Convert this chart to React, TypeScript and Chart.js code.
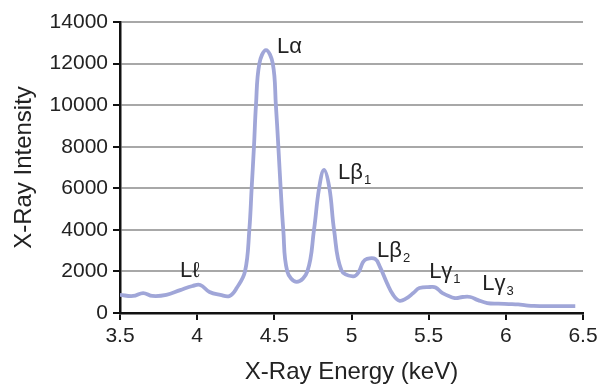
import React, { useEffect, useRef } from "react";
import { Chart, registerables } from "chart.js";

Chart.register(...registerables);

// X-ray energy (keV)
const energy = [
  3.5, 3.585, 3.65, 3.71, 3.8, 3.89, 3.97, 4.02, 4.08, 4.15, 4.21, 4.256, 4.31,
  4.338, 4.353, 4.368, 4.381, 4.403, 4.446, 4.49, 4.51, 4.526, 4.541, 4.558, 4.584,
  4.645, 4.714, 4.757, 4.79, 4.822, 4.857, 4.887, 4.935, 5.01,
  5.045, 5.075, 5.1, 5.153, 5.185, 5.23, 5.27, 5.31, 5.355, 5.4, 5.44, 5.51, 5.545,
  5.59, 5.67, 5.72, 5.77, 5.82, 5.88, 5.95, 6.02, 6.08, 6.13, 6.18, 6.3, 6.45,
];
// X-ray intensity
const intensity = [
  870, 820, 960, 820, 870, 1100, 1300, 1350, 1010, 870, 820, 1200, 2000,
  4000, 6000, 8000, 10000, 12000, 12650, 12000, 10000, 8000, 6000, 4000, 2000,
  1500, 2000, 4000, 6000, 6880, 6000, 4000, 2050, 1760,
  1950, 2450, 2600, 2600, 2210, 1440, 870, 590, 700, 960, 1200, 1250, 1230,
  960, 720, 770, 770, 620, 480, 450, 430, 410, 370, 340, 330, 330,
];

const xTickValues = [3.5, 4, 4.5, 5, 5.5, 6, 6.5];
const yTickValues = [0, 2000, 4000, 6000, 8000, 10000, 12000, 14000];

// Peak annotations
const peakMain = ["L\u2113", "L\u03b1", "L\u03b2", "L\u03b2", "L\u03b3", "L\u03b3"];
const peakSub = ["", "", "1", "2", "1", "3"];
const peakX = [3.889, 4.517, 4.913, 5.166, 5.503, 5.847];
const peakY = [1732, 12509, 6447, 2694, 1684, 1107];

const FONT = '"Liberation Sans", Arial, "DejaVu Sans", sans-serif';

const peakLabels = {
  id: "peakLabels",
  afterDatasetsDraw(chart: any) {
    const ctx = chart.ctx;
    const xs = chart.scales.x;
    const ys = chart.scales.y;
    ctx.save();
    ctx.fillStyle = "#222";
    ctx.textAlign = "left";
    ctx.textBaseline = "alphabetic";
    for (let i = 0; i < peakMain.length; i++) {
      const px = xs.getPixelForValue(peakX[i]);
      const py = ys.getPixelForValue(peakY[i]);
      ctx.font = `22px ${FONT}`;
      ctx.fillText(peakMain[i], px, py);
      if (peakSub[i]) {
        const w = ctx.measureText(peakMain[i]).width;
        ctx.font = `13px ${FONT}`;
        ctx.fillText(peakSub[i], px + w + 1, py + 5);
      }
    }
    ctx.restore();
  },
};

export default function App() {
  const ref = useRef<HTMLCanvasElement>(null);
  useEffect(() => {
    if (!ref.current) return;
    const chart = new Chart(ref.current, {
      type: "line",
      data: {
        datasets: [
          {
            data: energy.map((e, i) => ({ x: e, y: intensity[i] })),
            borderColor: "#a0a6d8",
            borderWidth: 3.8,
            pointRadius: 0,
            fill: false,
            tension: 0.4,
          },
        ],
      },
      options: {
        animation: false,
        responsive: false,
        layout: { padding: { top: 22, right: 22, left: 0, bottom: 0 } },
        plugins: { legend: { display: false }, tooltip: { enabled: false } },
        scales: {
          x: {
            type: "linear",
            min: 3.5,
            max: 6.5,
            afterBuildTicks: (s: any) => {
              s.ticks = xTickValues.map((v) => ({ value: v }));
            },
            afterFit: (s: any) => {
              s.height = 74;
            },
            ticks: {
              font: { family: FONT, size: 21 },
              color: "#222",
              padding: 4,
              maxRotation: 0,
              autoSkip: false,
              callback: (v: any) => String(v),
            },
            grid: {
              drawOnChartArea: false,
              drawTicks: true,
              tickLength: 7,
              tickColor: "#111",
              lineWidth: 2,
            },
            border: { color: "#111", width: 2.5 },
            title: {
              display: true,
              text: "X-Ray Energy (keV)",
              font: { family: FONT, size: 24 },
              color: "#222",
              padding: { top: 0, bottom: 0 },
            },
          },
          y: {
            type: "linear",
            min: 0,
            max: 14000,
            afterBuildTicks: (s: any) => {
              s.ticks = yTickValues.map((v) => ({ value: v }));
            },
            afterFit: (s: any) => {
              s.width = 120;
            },
            ticks: {
              font: { family: FONT, size: 21 },
              color: "#222",
              padding: 5,
              autoSkip: false,
              callback: (v: any) => String(v),
            },
            grid: {
              color: "#a8a8a8",
              lineWidth: 2,
              tickLength: 7,
              tickColor: "#111",
            },
            border: { color: "#111", width: 2.5 },
            title: {
              display: true,
              text: "X-Ray Intensity",
              font: { family: FONT, size: 24 },
              color: "#222",
              padding: { top: 10, bottom: 0 },
            },
          },
        },
      },
      plugins: [peakLabels],
    });
    return () => chart.destroy();
  }, []);
  return (
    <div style={{ position: "fixed", left: 0, top: 0, width: 605, height: 387, background: "#fff" }}>
      <canvas ref={ref} width={605} height={387} style={{ display: "block" }} />
    </div>
  );
}
